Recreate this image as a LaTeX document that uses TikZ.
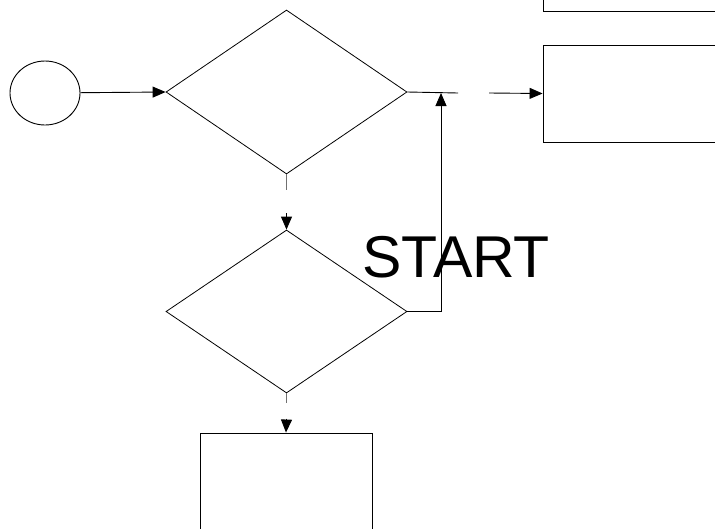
\documentclass[tikz,border=0pt]{standalone}
\usepackage{fontspec}
\setmainfont{Liberation Sans}
\usepackage{xcolor}
\usepackage{tikz}
\usetikzlibrary{positioning, arrows.meta, shapes.geometric}
\definecolor{fInk}{HTML}{000000}
\definecolor{fStub}{HTML}{707070}

\begin{document}
\begin{tikzpicture}[x=1pt, y=-1pt, >={Triangle[length=13pt,width=11pt]}, line width=0.9pt,
    decbox/.style={diamond, draw=fInk, minimum width=241pt, minimum height=164pt, inner sep=0pt, line width=0.8pt},
    procbox/.style={rectangle, draw=fInk, inner sep=0pt}]
  \clip (0,0) rectangle (715,528);
  \fill[white] (0,0) rectangle (715,528);
  \node[ellipse, draw=fInk, minimum width=70pt, minimum height=64pt, inner sep=0pt] (start) at (45,93) {};
  \node[decbox] (dec1) at (286.5,92) {};
  \node[decbox, minimum height=163pt] (dec2) at (286.5,311.5) {};
  \node[procbox, minimum width=257pt, minimum height=60pt] (topbox) at (671.5,-19) {};
  \node[procbox, minimum width=257pt, minimum height=97pt] (sidebox) at (671.5,93.5) {};
  \node[procbox, minimum width=172pt, minimum height=170pt] (lowbox) at (286,518) {};
  \node[font=\fontsize{59}{62}\selectfont, anchor=base] (title) at (456,277) {START};
  \coordinate (gapA) at (458,93);
  \coordinate (gapB) at (489,93);
  \coordinate (stubA) at (286.5,190);
  \coordinate (feedA) at (286.5,213);
  \coordinate (stubB) at (286.5,403);
  \coordinate (feedB) at (286.5,419);
  \coordinate (loop) at (441,93);
  \draw[->, fInk] (start) -- (dec1.west);
  \draw[fInk] (dec1.east) -- (gapA);
  \draw[->, fInk] (gapB) -- (sidebox.west);
  \draw[fStub] (dec1.south) -- (stubA);
  \draw[->, fInk] (feedA) -- (dec2.north);
  \draw[->, fInk] (dec2.east) -| (loop);
  \draw[fStub] (dec2.south) -- (stubB);
  \draw[->, fInk] (feedB) -- (lowbox.north);
\end{tikzpicture}
\end{document}
